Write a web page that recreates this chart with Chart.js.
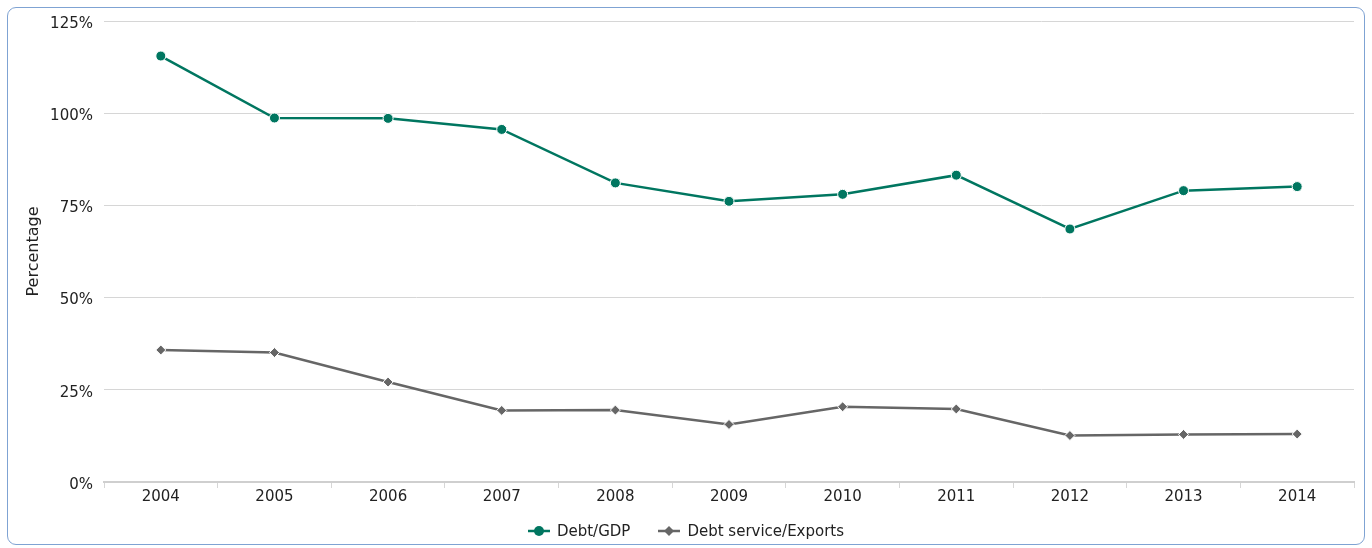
<!DOCTYPE html>
<html>
<head>
<meta charset="utf-8">
<script src="https://cdn.jsdelivr.net/npm/chart.js@4/dist/chart.umd.min.js"></script>
<style>
    html, body { margin: 0; padding: 0; background: #fff; }
    body { width: 1372px; height: 548px; position: relative; overflow: hidden; }
    .frame {
        position: absolute; left: 7px; top: 7px; width: 1356px; height: 536px;
        border: 1px solid #7fa3d3; border-radius: 9px;
    }
    #wrap { position: absolute; left: 0; top: 0; width: 1372px; height: 548px; }
    #legend {
        position: absolute; left: 0; width: 1372px; top: 521px; height: 20px;
        display: flex; justify-content: center; align-items: center;
        font-family: 'DejaVu Sans'; font-size: 15px; color: #222;
    }
    #legend .item { display: flex; align-items: center; margin: 0 14px; }
    #legend canvas { margin-right: 7px; }
</style>
</head>
<body>
<div class="frame"></div>
<div id="wrap"><canvas id="debtChart"></canvas></div>
<div id="legend"></div>
<script>
// --- data ---
const years = ['2004', '2005', '2006', '2007', '2008', '2009', '2010', '2011', '2012', '2013', '2014'];
const debtGdp = [115.5, 98.7, 98.6, 95.6, 81.1, 76.1, 78.0, 83.2, 68.6, 79.0, 80.1];
const debtServiceExports = [35.8, 35.1, 27.1, 19.4, 19.5, 15.6, 20.4, 19.8, 12.6, 12.9, 13.0];
const yTicks = [0, 25, 50, 75, 100, 125];

const GREEN = '#007660';
const GREY = '#666666';
const FONT = 'DejaVu Sans';

// legend symbol: short line with the marker in the middle
const legendIcon = (color, shape) => {
    const c = document.createElement('canvas');
    c.width = 22; c.height = 12;
    const g = c.getContext('2d');
    g.strokeStyle = color;
    g.lineWidth = 2.5;
    g.beginPath(); g.moveTo(0, 6); g.lineTo(22, 6); g.stroke();
    g.fillStyle = color;
    g.beginPath();
    if (shape === 'circle') {
        g.arc(11, 6, 5, 0, Math.PI * 2);
    } else {
        g.moveTo(11, 1); g.lineTo(16, 6); g.lineTo(11, 11); g.lineTo(6, 6); g.closePath();
    }
    g.fill();
    return c;
};

Chart.defaults.font.family = FONT;
Chart.defaults.font.size = 15;
Chart.defaults.color = '#222';

const ctx = document.getElementById('debtChart').getContext('2d');
const chart = new Chart(ctx, {
    type: 'line',
    data: {
        labels: years,
        datasets: [{
            label: 'Debt/GDP',
            data: debtGdp,
            borderColor: GREEN,
            backgroundColor: GREEN,
            borderWidth: 2.5,
            pointStyle: 'circle',
            pointRadius: 5,
            pointBorderColor: '#fff',
            pointBorderWidth: 1,
            tension: 0
        }, {
            label: 'Debt service/Exports',
            data: debtServiceExports,
            borderColor: GREY,
            backgroundColor: GREY,
            borderWidth: 2.5,
            pointStyle: 'rectRot',
            pointRadius: 5,
            pointBorderColor: '#fff',
            pointBorderWidth: 1,
            tension: 0
        }]
    },
    options: {
        responsive: true,
        maintainAspectRatio: false,
        animation: false,
        layout: { padding: { left: 20, right: 18, top: 21, bottom: 36 } },
        plugins: {
            tooltip: { enabled: false },
            legend: { display: false }
        },
        scales: {
            x: {
                offset: true,
                grid: {
                    offset: true,
                    drawOnChartArea: false,
                    tickLength: 6,
                    color: '#d6d6d6'
                },
                border: { color: '#cfcfcf', width: 2 },
                ticks: { padding: 0, color: '#222', maxRotation: 0 },
                afterFit: (scale) => { scale.height = 30; }
            },
            y: {
                min: 0,
                max: 125,
                afterBuildTicks: (scale) => { scale.ticks = yTicks.map(v => ({ value: v })); },
                ticks: {
                    padding: 11,
                    labelOffset: 3,
                    color: '#222',
                    callback: (v) => v + '%'
                },
                grid: { drawTicks: false, color: '#d6d6d6' },
                border: { display: false },
                title: { display: true, text: 'Percentage', color: '#222', font: { size: 16 } },
                afterFit: (scale) => { scale.width = 84; }
            }
        }
    }
});

// html legend built from the datasets
const legendBox = document.getElementById('legend');
chart.data.datasets.forEach((ds, i) => {
    const item = document.createElement('div');
    item.className = 'item';
    item.appendChild(legendIcon(ds.borderColor, i === 0 ? 'circle' : 'diamond'));
    const label = document.createElement('span');
    label.textContent = ds.label;
    item.appendChild(label);
    legendBox.appendChild(item);
});
</script>
</body>
</html>
